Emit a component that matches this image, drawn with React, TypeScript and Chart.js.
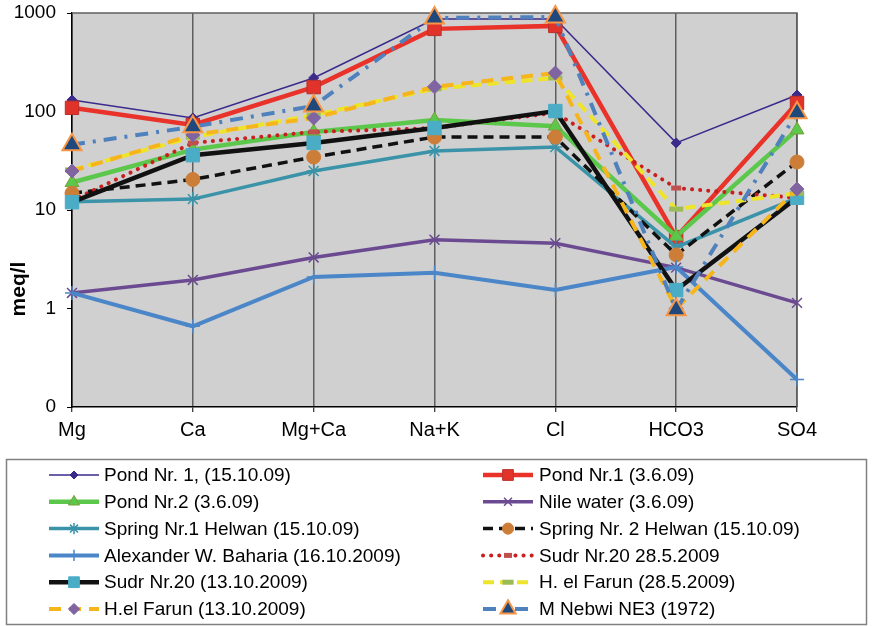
import React, { useEffect, useRef } from 'react';
import { Chart, registerables } from 'chart.js';
import { drawPoint } from 'chart.js/helpers';

Chart.register(...registerables);

const CATEGORIES = ['Mg', 'Ca', 'Mg+Ca', 'Na+K', 'Cl', 'HCO3', 'SO4'];
const Y_TICKS = [0.1, 1, 10, 100, 1000];
const Y_TICK_LABELS = ['0', '1', '10', '100', '1000'];
const Y_TITLE = 'meq/l';

const SERIES_NAMES = [
  'Pond Nr. 1, (15.10.09)',
  'Pond Nr.1 (3.6.09)',
  'Pond Nr.2 (3.6.09)',
  'Nile water (3.6.09)',
  'Spring Nr.1 Helwan (15.10.09)',
  'Spring Nr. 2 Helwan (15.10.09)',
  'Alexander W. Baharia (16.10.2009)',
  'Sudr Nr.20 28.5.2009',
  'Sudr Nr.20 (13.10.2009)',
  'H. el Farun (28.5.2009)',
  'H.el Farun (13.10.2009)',
  'M Nebwi NE3 (1972)',
];

const POND1_151009 = [131, 86, 219, 870, 870, 48, 147];
const POND1_030609 = [109, 73, 177, 690, 740, 5.3, 122];
const POND2_030609 = [19, 41, 62, 82, 71, 5.4, 65];
const NILE_030609 = [1.44, 1.95, 3.3, 5.0, 4.6, 2.6, 1.14];
const SPRING1_HELWAN = [12.1, 12.9, 24.9, 39.8, 43.6, 4.2, 13.3];
const SPRING2_HELWAN = [14.8, 20.4, 34.5, 55, 55, 3.5, 30.7];
const ALEX_BAHARIA = [1.44, 0.66, 2.09, 2.3, 1.54, 2.64, 0.19];
const SUDR20_280509 = [12.5, 48, 62, 68, 97, 16.7, 13.3];
const SUDR20_131009 = [12, 36, 48, 68, 101, 1.54, 13.3];
const FARUN_280509 = [25.5, 55, 92, 170, 219, 10.2, 14.8];
const FARUN_131009 = [24.9, 58, 86, 178, 246, 1.0, 16.3];
const NEBWI_1972 = [46, 70, 114, 890, 910, 0.97, 97];

const SERIES_VALUES = [
  POND1_151009, POND1_030609, POND2_030609, NILE_030609, SPRING1_HELWAN, SPRING2_HELWAN,
  ALEX_BAHARIA, SUDR20_280509, SUDR20_131009, FARUN_280509, FARUN_131009, NEBWI_1972,
];

type Style = {
  line: string; width: number; dash: number[]; cap?: CanvasLineCap;
  point: string; radius: number; fill: string; stroke: string; pbw: number;
};

const STYLES: Style[] = [
  { line: '#3b2a8c', width: 1.5, dash: [], point: 'rectRot', radius: 5, fill: '#3b2a8c', stroke: '#3b2a8c', pbw: 1 },
  { line: '#e8322a', width: 4.5, dash: [], point: 'rect', radius: 9.5, fill: '#e2332b', stroke: '#b8312c', pbw: 1 },
  { line: '#5cc84b', width: 4.5, dash: [], point: 'triangle', radius: 8, fill: '#5cc84b', stroke: '#7a9e3a', pbw: 1 },
  { line: '#6b4a92', width: 3.5, dash: [], point: 'crossRot', radius: 7, fill: '#6b4a92', stroke: '#6b4a92', pbw: 1.5 },
  { line: '#3a93a8', width: 3.5, dash: [], point: 'star', radius: 7, fill: '#3a93a8', stroke: '#3a93a8', pbw: 1.5 },
  { line: '#111111', width: 3.5, dash: [10, 6], point: 'circle', radius: 7, fill: '#cc7e38', stroke: '#cc7e38', pbw: 1 },
  { line: '#4a86c8', width: 4, dash: [], point: 'cross', radius: 7, fill: '#4a86c8', stroke: '#4a86c8', pbw: 1.5 },
  { line: '#c8201e', width: 4, dash: [0.1, 8], cap: 'round', point: 'line', radius: 5, fill: '#c0504d', stroke: '#c0504d', pbw: 5 },
  { line: '#111111', width: 4.5, dash: [], point: 'rect', radius: 9.5, fill: '#4bacc6', stroke: '#4bacc6', pbw: 1 },
  { line: '#eee52a', width: 4, dash: [11, 6], point: 'line', radius: 7, fill: '#9bbb59', stroke: '#9bbb59', pbw: 5 },
  { line: '#f7b51c', width: 4, dash: [12, 8], point: 'rectRot', radius: 7, fill: '#8064a2', stroke: '#8064a2', pbw: 1 },
  { line: '#4f81bd', width: 4, dash: [13, 8, 3, 8], point: 'triangle', radius: 11, fill: '#1f497d', stroke: '#f79646', pbw: 2 },
];

const FONT = '"Liberation Sans", Arial, sans-serif';

const bgPlugin = {
  id: 'bgPlugin',
  beforeDraw(chart: any) {
    const { ctx, chartArea: a } = chart;
    ctx.save();
    ctx.fillStyle = '#d0d0d0';
    ctx.fillRect(a.left, a.top, a.right - a.left, a.bottom - a.top);
    ctx.restore();
  },
  beforeDatasetsDraw(chart: any) {
    const { ctx, chartArea: a } = chart;
    ctx.save();
    ctx.strokeStyle = '#5f5f5f';
    ctx.lineWidth = 1.5;
    ctx.beginPath();
    ctx.moveTo(a.left, a.top);
    ctx.lineTo(a.right, a.top);
    ctx.lineTo(a.right, a.bottom);
    ctx.stroke();
    ctx.restore();
  },
};

const titlePlugin = {
  id: 'titlePlugin',
  afterDraw(chart: any) {
    const { ctx, chartArea: a } = chart;
    ctx.save();
    ctx.translate(a.left - 53, a.top + 276);
    ctx.rotate(-Math.PI / 2);
    ctx.font = 'bold 21px ' + FONT;
    ctx.fillStyle = '#000';
    ctx.textAlign = 'center';
    ctx.textBaseline = 'middle';
    ctx.fillText(Y_TITLE, 0, 0);
    ctx.restore();
  },
};

const legendPlugin = {
  id: 'customLegend',
  afterDraw(chart: any) {
    const { ctx } = chart;
    const box = { x: 6.5, y: 459.5, w: 860, h: 165 };
    ctx.save();
    ctx.strokeStyle = '#808080';
    ctx.lineWidth = 1.5;
    ctx.strokeRect(box.x, box.y, box.w, box.h);
    const colX = [49, 483];
    const textX = [104, 539];
    chart.data.datasets.forEach((ds: any, i: number) => {
      const col = i % 2;
      const row = Math.floor(i / 2);
      const y = 475 + row * 26.8;
      const x0 = colX[col];
      const x1 = x0 + 50;
      ctx.save();
      ctx.strokeStyle = ds.borderColor;
      ctx.lineWidth = ds.borderWidth;
      ctx.lineCap = ds.borderCapStyle || 'butt';
      ctx.setLineDash(ds.borderDash || []);
      ctx.beginPath();
      ctx.moveTo(x0, y);
      ctx.lineTo(x1, y);
      ctx.stroke();
      ctx.setLineDash([]);
      ctx.lineCap = 'butt';
      ctx.fillStyle = ds.pointBackgroundColor;
      ctx.strokeStyle = ds.pointBorderColor;
      ctx.lineWidth = ds.pointBorderWidth;
      drawPoint(ctx, {
        pointStyle: ds.pointStyle,
        rotation: 0,
        radius: ds.pointRadius * 0.8,
        borderWidth: ds.pointBorderWidth,
      } as any, (x0 + x1) / 2, y);
      ctx.restore();
      ctx.fillStyle = '#000';
      ctx.font = '19px ' + FONT;
      ctx.textAlign = 'left';
      ctx.textBaseline = 'middle';
      ctx.fillText(ds.label, textX[col], y + 1);
    });
    ctx.restore();
  },
};

export default function App() {
  const ref = useRef<HTMLCanvasElement | null>(null);

  useEffect(() => {
    if (!ref.current) return;
    const n = SERIES_NAMES.length;
    const datasets = SERIES_NAMES.map((name, i) => {
      const s = STYLES[i];
      return {
        label: name,
        data: SERIES_VALUES[i],
        borderColor: s.line,
        backgroundColor: s.line,
        borderWidth: s.width,
        borderDash: s.dash,
        borderCapStyle: s.cap || 'butt',
        pointStyle: s.point,
        pointRadius: s.radius,
        pointHoverRadius: s.radius,
        pointBackgroundColor: s.fill,
        pointBorderColor: s.stroke,
        pointBorderWidth: s.pbw,
        tension: 0,
        fill: false,
        clip: false as any,
        order: n - i,
      };
    });

    const chart = new Chart(ref.current, {
      type: 'line',
      data: { labels: CATEGORIES, datasets },
      options: {
        animation: false,
        responsive: false,
        maintainAspectRatio: false,
        layout: { padding: { top: 13, left: 0, right: 77, bottom: 174 } },
        plugins: {
          legend: { display: false },
          tooltip: { enabled: false },
          title: { display: false },
        },
        scales: {
          x: {
            type: 'category',
            offset: false,
            grid: { color: '#5f5f5f', lineWidth: 1.5, drawTicks: true, tickLength: 5, tickColor: '#000', tickWidth: 1 },
            border: { color: '#000', width: 1.5 },
            ticks: { color: '#000', font: { family: FONT, size: 20 }, padding: 6, maxRotation: 0, autoSkip: false },
            afterFit: (s: any) => { s.height = 45; },
          },
          y: {
            type: 'logarithmic',
            min: 0.1,
            max: 1000,
            afterBuildTicks: (s: any) => { s.ticks = Y_TICKS.map((v) => ({ value: v })); },
            grid: { color: 'rgba(0,0,0,0)', drawTicks: true, tickLength: 5, tickColor: '#000', tickWidth: 1 },
            border: { color: '#000', width: 1.5 },
            ticks: {
              color: '#000',
              font: { family: FONT, size: 19 },
              padding: 11,
              autoSkip: false,
              callback: (v: any) => {
                const idx = Y_TICKS.findIndex((t) => Math.abs(t - Number(v)) < 1e-9);
                return idx >= 0 ? Y_TICK_LABELS[idx] : '';
              },
            },
            afterFit: (s: any) => { s.width = 72; s.paddingTop = 0; s.paddingBottom = 0; },
          },
        },
      },
      plugins: [bgPlugin, titlePlugin, legendPlugin],
    });
    return () => chart.destroy();
  }, []);

  return (
    <div style={{ position: 'fixed', left: 0, top: 0, width: 874, height: 626, background: '#fff' }}>
      <canvas ref={ref} width={874} height={626} style={{ width: 874, height: 626, display: 'block' }} />
    </div>
  );
}
